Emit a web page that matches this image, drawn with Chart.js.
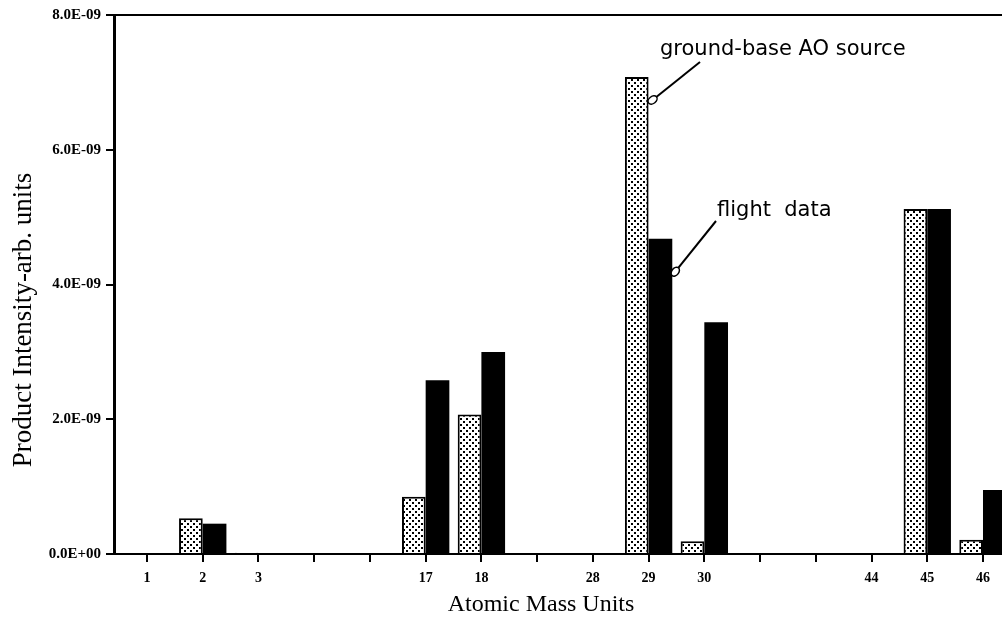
<!DOCTYPE html>
<html>
<head>
<meta charset="utf-8">
<script src="https://cdn.jsdelivr.net/npm/chart.js@4.4.1/dist/chart.umd.min.js"></script>
<style>
  html, body { margin: 0; padding: 0; background: #fff; overflow: hidden; }
  #wrap { width: 1002px; height: 620px; }
</style>
</head>
<body>
<div id="wrap"><canvas id="c"></canvas></div>
<script>
// mass peaks (blank slots are the unlabeled ticks on the axis)
const categories = ['1', '2', '3', '', '', '17', '18', '', '28', '29', '30', '', '', '44', '45', '46'];
const groundBase = [0, 0.53e-9, 0.02e-9, null, null, 0.85e-9, 2.07e-9, null, 0, 7.08e-9, 0.19e-9, null, null, 0, 5.12e-9, 0.21e-9];
const flightData = [0, 0.45e-9, 0, null, null, 2.58e-9, 3.0e-9, null, 0, 4.68e-9, 3.44e-9, null, null, 0, 5.12e-9, 0.95e-9];
const yTicks = [0, 2e-9, 4e-9, 6e-9, 8e-9];

function sci(v) {
  if (v === 0) return '0.0E+00';
  const [m, e] = v.toExponential(1).split('e');
  const n = parseInt(e, 10);
  return m + 'E' + (n < 0 ? '-' : '+') + String(Math.abs(n)).padStart(2, '0');
}

// dotted fill for the ground-base bars
function stipple() {
  const t = document.createElement('canvas');
  t.width = 6; t.height = 6;
  const g = t.getContext('2d');
  g.fillStyle = '#fff';
  g.fillRect(0, 0, 6, 6);
  g.fillStyle = '#000';
  g.fillRect(1, 1, 2, 2);
  g.fillRect(4, 4, 2, 2);
  return g.createPattern(t, 'repeat');
}

function callout(ctx, text, tx, ty, x0, y0, x1, y1) {
  ctx.font = '21px "DejaVu Sans"';
  ctx.textAlign = 'left';
  ctx.textBaseline = 'middle';
  ctx.fillStyle = '#000';
  ctx.fillText(text, tx, ty);
  ctx.strokeStyle = '#000';
  ctx.lineWidth = 2;
  ctx.beginPath();
  ctx.moveTo(x0, y0);
  ctx.lineTo(x1, y1);
  ctx.stroke();
  const ang = Math.atan2(y1 - y0, x1 - x0);
  ctx.beginPath();
  ctx.ellipse(x1, y1, 5, 3.5, ang, 0, Math.PI * 2);
  ctx.fillStyle = '#fff';
  ctx.fill();
  ctx.lineWidth = 1.5;
  ctx.stroke();
}

const decorations = {
  id: 'decorations',
  afterDraw(chart) {
    const { ctx, chartArea: a } = chart;
    ctx.save();
    ctx.strokeStyle = '#000';
    ctx.lineWidth = 2;
    ctx.beginPath();
    ctx.moveTo(a.left, a.top);
    ctx.lineTo(chart.width, a.top);
    ctx.stroke();

    ctx.fillStyle = '#000';
    ctx.textAlign = 'center';
    ctx.textBaseline = 'middle';
    ctx.font = '24px "Liberation Serif"';
    ctx.fillText('Atomic Mass Units', 541, 605);
    ctx.save();
    ctx.translate(24, 320);
    ctx.rotate(-Math.PI / 2);
    ctx.font = '27px "Liberation Serif"';
    ctx.fillText('Product Intensity-arb. units', 0, 0);
    ctx.restore();

    const g = chart.getDatasetMeta(0).data[9];
    const f = chart.getDatasetMeta(1).data[9];
    callout(ctx, 'ground-base AO source', 660, 50, 700, 62, g.x + g.width / 2 + 4, g.y + 23);
    callout(ctx, 'flight  data', 717, 211, 716, 221, f.x + f.width / 2 + 3, f.y + 33);
    ctx.restore();
  }
};

const serifBold = { family: '"Liberation Serif"', weight: 'bold' };

new Chart(document.getElementById('c'), {
  type: 'bar',
  data: {
    datasets: [
      {
        label: 'ground-base AO source',
        data: groundBase.map((v, i) => ({ x: i, y: v })),
        backgroundColor: stipple(),
        borderColor: '#000',
        borderWidth: 2,
        borderSkipped: 'start',
        categoryPercentage: 0.85,
        barPercentage: 1
      },
      {
        label: 'flight data',
        data: flightData.map((v, i) => ({ x: i, y: v })),
        backgroundColor: '#000',
        borderWidth: 0,
        categoryPercentage: 0.85,
        barPercentage: 1
      }
    ]
  },
  options: {
    responsive: true,
    maintainAspectRatio: false,
    animation: false,
    layout: { padding: { top: 15, right: 0, left: 0, bottom: 0 } },
    plugins: { legend: { display: false }, tooltip: { enabled: false } },
    scales: {
      x: {
        type: 'linear',
        min: -0.592,
        max: 15.341,
        offset: false,
        afterBuildTicks: (axis) => { axis.ticks = categories.map((c, i) => ({ value: i })); },
        afterFit: (axis) => { axis.height = 66; },
        ticks: {
          autoSkip: false,
          maxRotation: 0,
          padding: 8,
          color: '#000',
          font: { ...serifBold, size: 14 },
          callback: (v) => categories[v] ?? ''
        },
        grid: { offset: false, drawOnChartArea: false, tickLength: 8, lineWidth: 2, color: '#000' },
        border: { display: true, width: 2, color: '#000' }
      },
      y: {
        min: 0,
        max: 8e-9,
        afterBuildTicks: (axis) => { axis.ticks = yTicks.map(v => ({ value: v })); },
        afterFit: (axis) => { axis.width = 114; },
        ticks: { padding: 5, color: '#000', font: { ...serifBold, size: 15 }, callback: (v) => sci(v) },
        grid: { drawOnChartArea: false, tickLength: 8, lineWidth: 2, color: '#000' },
        border: { display: true, width: 3, color: '#000' }
      }
    }
  },
  plugins: [decorations]
});
</script>
</body>
</html>
